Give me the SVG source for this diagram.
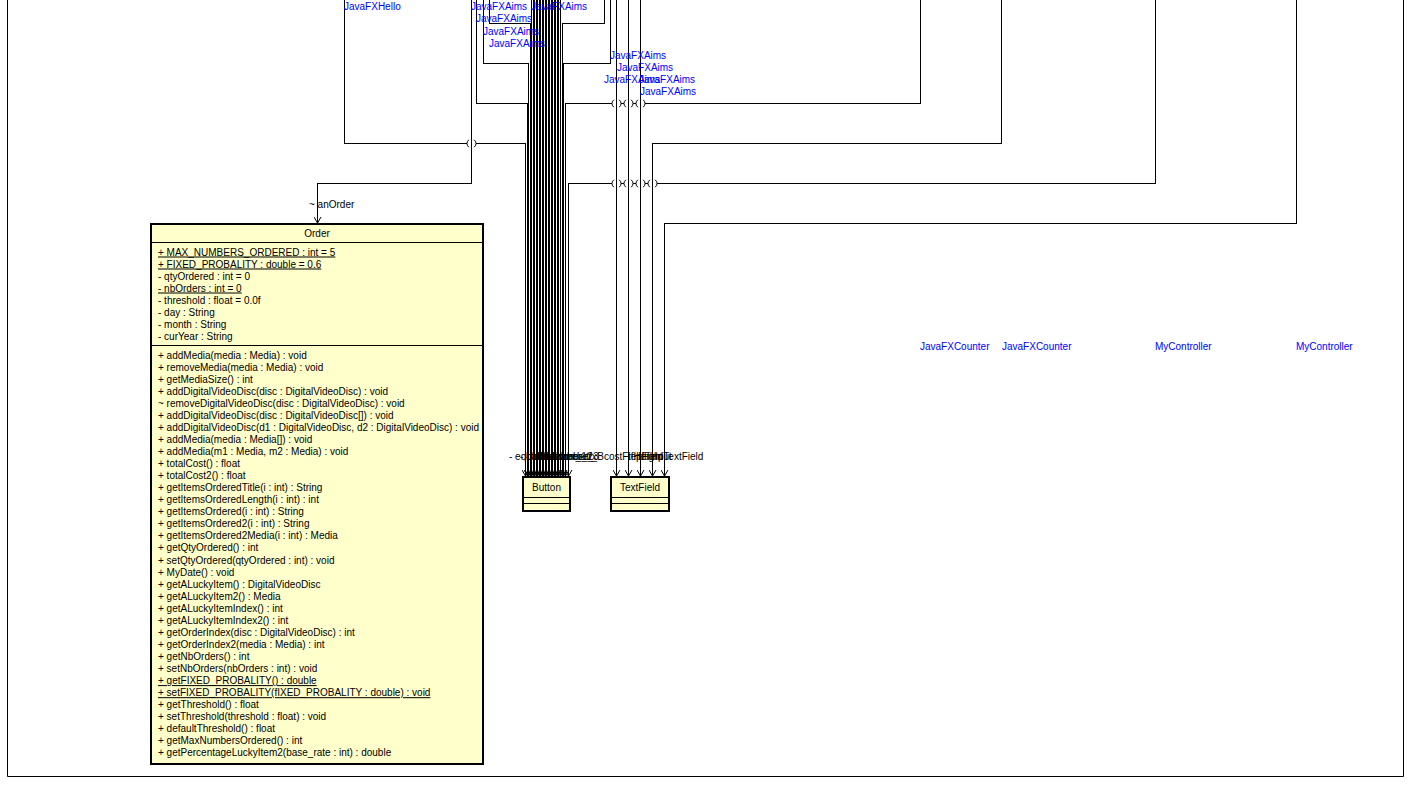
<svg xmlns="http://www.w3.org/2000/svg" width="1416" height="792" viewBox="0 0 1416 792">
<style>
.c{stroke:#000;fill:none;stroke-width:1;shape-rendering:crispEdges}
.h{stroke:#000;fill:none;stroke-width:1}
.t{font-family:"Liberation Sans",Arial,sans-serif;font-size:10px;fill:#000}
.b{fill:#0000FF}
.u{text-decoration:underline}
.box{fill:#FFFFCC;stroke:#000;stroke-width:2}
.sep{stroke:#000;stroke-width:1;shape-rendering:crispEdges}
.mid{text-anchor:middle}
</style>
<defs>
<marker id="arr" viewBox="0 0 8 8" refX="7" refY="4" markerWidth="8" markerHeight="8" markerUnits="userSpaceOnUse" orient="auto">
<path d="M1,0.5 L7,4 L1,7.5" fill="none" stroke="#000" stroke-width="1"/>
</marker>
</defs>
<rect width="1416" height="792" fill="#fff"/>
<path d="M7.5 0 V776.5 H1403.5 V0" fill="none" stroke="#000" stroke-width="1"/>

<g id="connectors">
<path class="c" marker-end="url(#arr)" d="M471.5 0 V183.5 H317.5 V223"/>
<path class="c" marker-end="url(#arr)" d="M344.5 0 V143.5 H467 M476 143.5 H525.5 V476"/>
<path class="c" marker-end="url(#arr)" d="M476.5 0 V103.5 H527.5 V476"/>
<path class="c" marker-end="url(#arr)" d="M483.5 0 V63.5 H528.5 V476"/>
<path class="c" marker-end="url(#arr)" d="M489.5 0 V23.5 H530.5 V476"/>
<path class="c" marker-end="url(#arr)" d="M531.5 0 V476"/>
<path class="c" marker-end="url(#arr)" d="M533.5 0 V476"/>
<path class="c" marker-end="url(#arr)" d="M534.5 0 V476"/>
<path class="c" marker-end="url(#arr)" d="M536.5 0 V476"/>
<path class="c" marker-end="url(#arr)" d="M537.5 0 V476"/>
<path class="c" marker-end="url(#arr)" d="M539.5 0 V476"/>
<path class="c" marker-end="url(#arr)" d="M540.5 0 V476"/>
<path class="c" marker-end="url(#arr)" d="M542.5 0 V476"/>
<path class="c" marker-end="url(#arr)" d="M543.5 0 V476"/>
<path class="c" marker-end="url(#arr)" d="M545.5 0 V476"/>
<path class="c" marker-end="url(#arr)" d="M546.5 0 V476"/>
<path class="c" marker-end="url(#arr)" d="M548.5 0 V476"/>
<path class="c" marker-end="url(#arr)" d="M549.5 0 V476"/>
<path class="c" marker-end="url(#arr)" d="M551.5 0 V476"/>
<path class="c" marker-end="url(#arr)" d="M552.5 0 V476"/>
<path class="c" marker-end="url(#arr)" d="M554.5 0 V476"/>
<path class="c" marker-end="url(#arr)" d="M555.5 0 V476"/>
<path class="c" marker-end="url(#arr)" d="M557.5 0 V476"/>
<path class="c" marker-end="url(#arr)" d="M558.5 0 V476"/>
<path class="c" marker-end="url(#arr)" d="M560.5 0 V476"/>
<path class="c" marker-end="url(#arr)" d="M604.5 0 V23.5 H562.5 V476"/>
<path class="c" marker-end="url(#arr)" d="M610.5 0 V63.5 H563.5 V476"/>
<path class="c" marker-end="url(#arr)" d="M920.5 0 V103.5 H645 M636 103.5 H633 M624 103.5 H621 M612 103.5 H565.5 V476"/>
<path class="c" marker-end="url(#arr)" d="M1155.5 0 V183.5 H657 M648 183.5 H645 M636 183.5 H633 M624 183.5 H621 M612 183.5 H568.5 V476"/>
<path class="c" marker-end="url(#arr)" d="M616.5 0 V476"/>
<path class="c" marker-end="url(#arr)" d="M628.5 0 V476"/>
<path class="c" marker-end="url(#arr)" d="M640.5 0 V476"/>
<path class="c" marker-end="url(#arr)" d="M1001.5 0 V143.5 H652.5 V476"/>
<path class="c" marker-end="url(#arr)" d="M1296.5 0 V223.5 H664.5 V476"/>
<g id="hops" class="h">
<path d="M468.9 139.8 A4.5 4.5 0 0 0 468.9 147.2 M474.1 139.8 A4.5 4.5 0 0 1 474.1 147.2"/>
<path d="M613.9 99.8 A4.5 4.5 0 0 0 613.9 107.2 M619.1 99.8 A4.5 4.5 0 0 1 619.1 107.2"/>
<path d="M625.9 99.8 A4.5 4.5 0 0 0 625.9 107.2 M631.1 99.8 A4.5 4.5 0 0 1 631.1 107.2"/>
<path d="M637.9 99.8 A4.5 4.5 0 0 0 637.9 107.2 M643.1 99.8 A4.5 4.5 0 0 1 643.1 107.2"/>
<path d="M613.9 179.8 A4.5 4.5 0 0 0 613.9 187.2 M619.1 179.8 A4.5 4.5 0 0 1 619.1 187.2"/>
<path d="M625.9 179.8 A4.5 4.5 0 0 0 625.9 187.2 M631.1 179.8 A4.5 4.5 0 0 1 631.1 187.2"/>
<path d="M637.9 179.8 A4.5 4.5 0 0 0 637.9 187.2 M643.1 179.8 A4.5 4.5 0 0 1 643.1 187.2"/>
<path d="M649.9 179.8 A4.5 4.5 0 0 0 649.9 187.2 M655.1 179.8 A4.5 4.5 0 0 1 655.1 187.2"/>
</g>
</g>

<g id="labels">
<text class="t b" x="344" y="9.5">JavaFXHello</text>
<text class="t b" x="471" y="9.5">JavaFXAims</text>
<text class="t b" x="531" y="9.5">JavaFXAims</text>
<text class="t b" x="476" y="21.5">JavaFXAims</text>
<text class="t b" x="483" y="34.5">JavaFXAims</text>
<text class="t b" x="489" y="46.5">JavaFXAims</text>
<text class="t b" x="610" y="58.5">JavaFXAims</text>
<text class="t b" x="617" y="70.5">JavaFXAims</text>
<text class="t b" x="604" y="82.5">JavaFXAims</text>
<text class="t b" x="639" y="82.5">JavaFXAims</text>
<text class="t b" x="640" y="94.5">JavaFXAims</text>
<text class="t b" x="920" y="349.5">JavaFXCounter</text>
<text class="t b" x="1002" y="349.5">JavaFXCounter</text>
<text class="t b" x="1155" y="349.5">MyController</text>
<text class="t b" x="1296" y="349.5">MyController</text>
<text class="t" x="309" y="207.5">~ anOrder</text>
<text class="t" x="509" y="459.5">- equalButton</text>
<text class="t" x="520" y="459.5">- btnNumber_1</text>
<text class="t" x="526" y="459.5">- btnNumber_2</text>
<text class="t" x="532" y="459.5">- btnNumber_3</text>
<text class="t" x="536" y="459.5">- btnNumber_B</text>
<text class="t" x="580" y="459.5">- tfx</text>
<text class="t" x="604" y="459.5">costField</text>
<text class="t" x="628" y="459.5">tfHeight</text>
<text class="t" x="636" y="459.5">pField</text>
<text class="t" x="644" y="459.5">tfInput</text>
<text class="t" x="655" y="459.5">mTextField</text>
</g>

<g id="Order">
<rect class="box" x="151" y="224" width="332" height="540"/>
<line class="sep" x1="151" y1="242.5" x2="483" y2="242.5"/>
<line class="sep" x1="151" y1="345.5" x2="483" y2="345.5"/>
<text class="t mid" x="317" y="236.5">Order</text>
<text class="t u" x="158" y="255.5">+ MAX_NUMBERS_ORDERED : int = 5</text>
<text class="t u" x="158" y="267.5">+ FIXED_PROBALITY : double = 0.6</text>
<text class="t" x="158" y="279.5">- qtyOrdered : int = 0</text>
<text class="t u" x="158" y="291.5">- nbOrders : int = 0</text>
<text class="t" x="158" y="303.5">- threshold : float = 0.0f</text>
<text class="t" x="158" y="315.5">- day : String</text>
<text class="t" x="158" y="327.5">- month : String</text>
<text class="t" x="158" y="339.5">- curYear : String</text>
<text class="t" x="158" y="358.5">+ addMedia(media : Media) : void</text>
<text class="t" x="158" y="370.56">+ removeMedia(media : Media) : void</text>
<text class="t" x="158" y="382.62">+ getMediaSize() : int</text>
<text class="t" x="158" y="394.68">+ addDigitalVideoDisc(disc : DigitalVideoDisc) : void</text>
<text class="t" x="158" y="406.74">~ removeDigitalVideoDisc(disc : DigitalVideoDisc) : void</text>
<text class="t" x="158" y="418.8">+ addDigitalVideoDisc(disc : DigitalVideoDisc[]) : void</text>
<text class="t" x="158" y="430.86">+ addDigitalVideoDisc(d1 : DigitalVideoDisc, d2 : DigitalVideoDisc) : void</text>
<text class="t" x="158" y="442.92">+ addMedia(media : Media[]) : void</text>
<text class="t" x="158" y="454.98">+ addMedia(m1 : Media, m2 : Media) : void</text>
<text class="t" x="158" y="467.04">+ totalCost() : float</text>
<text class="t" x="158" y="479.1">+ totalCost2() : float</text>
<text class="t" x="158" y="491.16">+ getItemsOrderedTitle(i : int) : String</text>
<text class="t" x="158" y="503.22">+ getItemsOrderedLength(i : int) : int</text>
<text class="t" x="158" y="515.28">+ getItemsOrdered(i : int) : String</text>
<text class="t" x="158" y="527.34">+ getItemsOrdered2(i : int) : String</text>
<text class="t" x="158" y="539.4">+ getItemsOrdered2Media(i : int) : Media</text>
<text class="t" x="158" y="551.46">+ getQtyOrdered() : int</text>
<text class="t" x="158" y="563.52">+ setQtyOrdered(qtyOrdered : int) : void</text>
<text class="t" x="158" y="575.58">+ MyDate() : void</text>
<text class="t" x="158" y="587.64">+ getALuckyItem() : DigitalVideoDisc</text>
<text class="t" x="158" y="599.7">+ getALuckyItem2() : Media</text>
<text class="t" x="158" y="611.76">+ getALuckyItemIndex() : int</text>
<text class="t" x="158" y="623.82">+ getALuckyItemIndex2() : int</text>
<text class="t" x="158" y="635.88">+ getOrderIndex(disc : DigitalVideoDisc) : int</text>
<text class="t" x="158" y="647.94">+ getOrderIndex2(media : Media) : int</text>
<text class="t" x="158" y="660">+ getNbOrders() : int</text>
<text class="t" x="158" y="672.06">+ setNbOrders(nbOrders : int) : void</text>
<text class="t u" x="158" y="684.12">+ getFIXED_PROBALITY() : double</text>
<text class="t u" x="158" y="696.18">+ setFIXED_PROBALITY(fIXED_PROBALITY : double) : void</text>
<text class="t" x="158" y="708.24">+ getThreshold() : float</text>
<text class="t" x="158" y="720.3">+ setThreshold(threshold : float) : void</text>
<text class="t" x="158" y="732.36">+ defaultThreshold() : float</text>
<text class="t" x="158" y="744.42">+ getMaxNumbersOrdered() : int</text>
<text class="t" x="158" y="756.48">+ getPercentageLuckyItem2(base_rate : int) : double</text>
</g>

<g id="Button">
<rect class="box" x="523" y="477" width="47" height="34"/>
<line class="sep" x1="523" y1="497.5" x2="570" y2="497.5"/>
<line class="sep" x1="523" y1="503.5" x2="570" y2="503.5"/>
<text class="t mid" x="546.5" y="490.5">Button</text>
</g>

<g id="TextField">
<rect class="box" x="611" y="477" width="58" height="34"/>
<line class="sep" x1="611" y1="497.5" x2="669" y2="497.5"/>
<line class="sep" x1="611" y1="503.5" x2="669" y2="503.5"/>
<text class="t mid" x="640" y="490.5">TextField</text>
</g>
</svg>
